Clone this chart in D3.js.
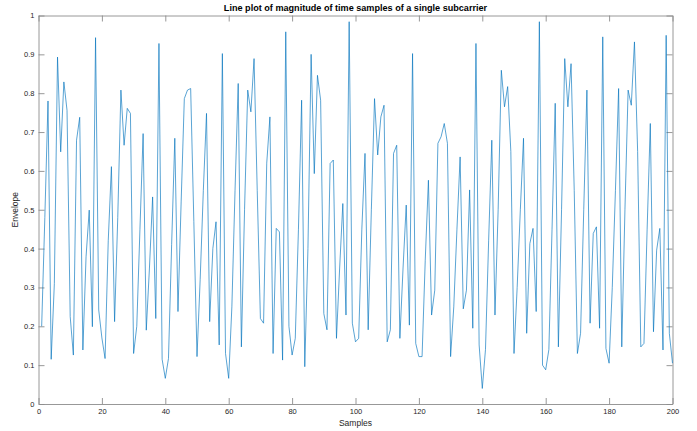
<!DOCTYPE html>
<html>
<head>
<meta charset="utf-8">
<script src="https://cdn.jsdelivr.net/npm/d3@7"></script>
<style>
  body { margin: 0; background: #fff; }
  svg { display: block; }
</style>
</head>
<body>
<div id="chart"></div>
<script>
// samples 1..200, magnitude
const envelope = [
  0.20, 0.48, 0.78, 0.115, 0.31, 0.893, 0.649, 0.829, 0.756, 0.225,
  0.126, 0.679, 0.738, 0.139, 0.379, 0.499, 0.199, 0.943, 0.242, 0.17,
  0.117, 0.42, 0.611, 0.212, 0.48, 0.808, 0.666, 0.761, 0.748, 0.130,
  0.20, 0.45, 0.696, 0.19, 0.35, 0.533, 0.22, 0.928, 0.115, 0.066,
  0.117, 0.41, 0.684, 0.238, 0.52, 0.786, 0.808, 0.812, 0.47, 0.122,
  0.32, 0.55, 0.748, 0.212, 0.40, 0.469, 0.152, 0.902, 0.13, 0.066,
  0.25, 0.55, 0.825, 0.147, 0.50, 0.808, 0.752, 0.889, 0.55, 0.22,
  0.208, 0.62, 0.739, 0.13, 0.452, 0.443, 0.113, 0.958, 0.20, 0.126,
  0.169, 0.45, 0.782, 0.096, 0.40, 0.90, 0.593, 0.846, 0.782, 0.233,
  0.191, 0.619, 0.628, 0.169, 0.35, 0.516, 0.229, 0.984, 0.208, 0.16,
  0.169, 0.45, 0.645, 0.191, 0.50, 0.786, 0.641, 0.739, 0.769, 0.16,
  0.191, 0.645, 0.666, 0.169, 0.35, 0.512, 0.203, 0.902, 0.156, 0.122,
  0.122, 0.37, 0.576, 0.229, 0.293, 0.671, 0.688, 0.722, 0.671, 0.122,
  0.25, 0.45, 0.636, 0.245, 0.293, 0.551, 0.195, 0.928, 0.152, 0.04,
  0.14, 0.42, 0.679, 0.229, 0.50, 0.859, 0.765, 0.817, 0.65, 0.13,
  0.30, 0.50, 0.684, 0.182, 0.413, 0.452, 0.238, 0.984, 0.10, 0.088,
  0.14, 0.45, 0.774, 0.147, 0.50, 0.889, 0.765, 0.876, 0.55, 0.13,
  0.182, 0.50, 0.808, 0.208, 0.439, 0.456, 0.195, 0.945, 0.143, 0.105,
  0.30, 0.55, 0.812, 0.147, 0.50, 0.808, 0.769, 0.932, 0.65, 0.147,
  0.156, 0.45, 0.722, 0.186, 0.396, 0.452, 0.139, 0.949, 0.182, 0.105
];
const samples = envelope.map((d, i) => i + 1);
const xTicks = [0, 20, 40, 60, 80, 100, 120, 140, 160, 180, 200];
const yTicks = [0, 0.1, 0.2, 0.3, 0.4, 0.5, 0.6, 0.7, 0.8, 0.9, 1];

var margin = {top: 15.5, right: 24.5, bottom: 27, left: 38.5},
    width = 697 - margin.left - margin.right,
    height = 431 - margin.top - margin.bottom;

var svg = d3.select("#chart")
  .append("svg")
  .attr("width", 697)
  .attr("height", 431)
  .append("g")
  .attr("transform", "translate(" + margin.left + "," + margin.top + ")");

const x = d3.scaleLinear().domain([0, 200]).range([0, width]);
const y = d3.scaleLinear().domain([0, 1]).range([height, 0]);

const axisColor = "#8c8c8c";
const textColor = "#262626";
const tickLen = 6;

// bottom / top axes
svg.append("g")
  .attr("transform", "translate(0," + height + ")")
  .call(d3.axisBottom(x).tickValues(xTicks).tickSizeInner(-tickLen).tickSizeOuter(0).tickPadding(5))
  .call(g => g.selectAll("text").attr("dy", "0.71em"));
svg.append("g")
  .call(d3.axisTop(x).tickValues(xTicks).tickSizeInner(-tickLen).tickSizeOuter(0).tickFormat(""));

// left / right axes
svg.append("g")
  .call(d3.axisLeft(y).tickValues(yTicks).tickSizeInner(-tickLen).tickSizeOuter(0).tickPadding(4)
    .tickFormat(d => d === 0 || d === 1 ? d3.format("d")(d) : d3.format(".1f")(d)));
svg.append("g")
  .attr("transform", "translate(" + width + ",0)")
  .call(d3.axisRight(y).tickValues(yTicks).tickSizeInner(-tickLen).tickSizeOuter(0).tickFormat(""));

svg.selectAll(".domain, .tick line").attr("stroke", axisColor).attr("stroke-width", 0.9);
svg.selectAll(".tick text")
  .attr("font-family", "Liberation Sans, Arial, Helvetica")
  .attr("font-size", 7.5)
  .attr("fill", textColor);

// the line
const line = d3.line()
  .x((d, i) => x(samples[i]))
  .y(d => y(d));

svg.append("path")
  .datum(envelope)
  .attr("fill", "none")
  .attr("stroke", "#0072BD")
  .attr("stroke-width", 0.65)
  .attr("stroke-linejoin", "round")
  .attr("d", line);

// title and labels
svg.append("text")
  .attr("x", width / 2)
  .attr("y", -5)
  .attr("text-anchor", "middle")
  .attr("font-family", "Liberation Sans, Arial, Helvetica")
  .attr("font-size", 9.1)
  .attr("font-weight", "bold")
  .attr("fill", "#000")
  .text("Line plot of magnitude of time samples of a single subcarrier");

svg.append("text")
  .attr("x", width / 2)
  .attr("y", height + 22)
  .attr("text-anchor", "middle")
  .attr("font-family", "Liberation Sans, Arial, Helvetica")
  .attr("font-size", 8.5)
  .attr("fill", textColor)
  .text("Samples");

svg.append("text")
  .attr("transform", "translate(-21," + (height / 2) + ") rotate(-90)")
  .attr("text-anchor", "middle")
  .attr("font-family", "Liberation Sans, Arial, Helvetica")
  .attr("font-size", 8.5)
  .attr("fill", textColor)
  .text("Envelope");
</script>
</body>
</html>
